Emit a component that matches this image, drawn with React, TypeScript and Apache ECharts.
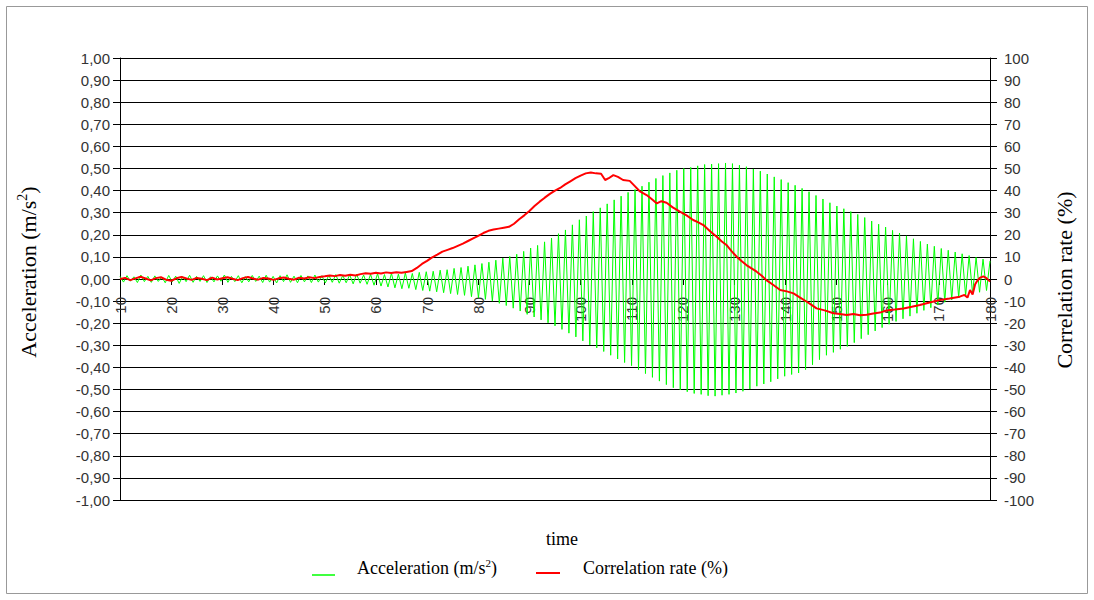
import { useEffect, useRef } from "react";
import * as echarts from "echarts";

// Acceleration (m/s²): alternating upper peaks and lower troughs of the oscillation,
// sampled every ACC_STEP time units starting at ACC_START (peak, trough, peak, ...).
const ACC_START = 10;
const ACC_STEP = 0.68;

const accPeaks = [
  0.012, 0.015, 0.010, 0.018, 0.012, 0.014, 0.009, 0.016, 0.013, 0.011,
  0.017, 0.012, 0.015, 0.010, 0.014, 0.018, 0.012, 0.015, 0.011, 0.016,
  0.013, 0.017, 0.012, 0.015, 0.019, 0.013, 0.016, 0.014, 0.018, 0.015,
  0.017, 0.020, 0.016, 0.019, 0.022, 0.018, 0.021, 0.024, 0.020, 0.026,
  0.022, 0.028, 0.025, 0.030, 0.033, 0.035, 0.040, 0.042, 0.048, 0.052,
  0.058, 0.064, 0.070, 0.076, 0.085, 0.094, 0.102, 0.112, 0.125, 0.140,
  0.152, 0.168, 0.185, 0.205, 0.222, 0.245, 0.268, 0.285, 0.305, 0.322,
  0.340, 0.358, 0.375, 0.392, 0.405, 0.420, 0.438, 0.455, 0.468, 0.480,
  0.492, 0.500, 0.505, 0.512, 0.518, 0.520, 0.522, 0.525, 0.522, 0.515,
  0.508, 0.498, 0.488, 0.475, 0.462, 0.450, 0.436, 0.424, 0.410, 0.395,
  0.378, 0.362, 0.345, 0.330, 0.318, 0.305, 0.292, 0.278, 0.262, 0.248,
  0.235, 0.220, 0.208, 0.195, 0.182, 0.170, 0.158, 0.148, 0.138, 0.130,
  0.122, 0.114, 0.106, 0.098, 0.090, 0.082,
];

const accTroughs = [
  -0.014, -0.010, -0.016, -0.012, -0.015, -0.011, -0.017, -0.013, -0.020, -0.012,
  -0.015, -0.011, -0.016, -0.013, -0.010, -0.015, -0.012, -0.017, -0.013, -0.011,
  -0.016, -0.014, -0.018, -0.012, -0.015, -0.017, -0.013, -0.016, -0.014, -0.018,
  -0.015, -0.019, -0.017, -0.022, -0.019, -0.024, -0.028, -0.032, -0.036, -0.040,
  -0.044, -0.042, -0.048, -0.052, -0.055, -0.058, -0.062, -0.066, -0.070, -0.074,
  -0.080, -0.086, -0.092, -0.100, -0.110, -0.120, -0.132, -0.145, -0.160, -0.172,
  -0.185, -0.198, -0.212, -0.228, -0.245, -0.262, -0.280, -0.298, -0.312, -0.328,
  -0.345, -0.362, -0.378, -0.392, -0.410, -0.428, -0.445, -0.462, -0.478, -0.492,
  -0.502, -0.510, -0.518, -0.522, -0.528, -0.530, -0.526, -0.522, -0.516, -0.508,
  -0.498, -0.485, -0.475, -0.465, -0.452, -0.440, -0.432, -0.425, -0.410, -0.388,
  -0.365, -0.345, -0.332, -0.318, -0.305, -0.288, -0.270, -0.252, -0.235, -0.220,
  -0.205, -0.192, -0.180, -0.168, -0.155, -0.142, -0.130, -0.118, -0.105, -0.095,
  -0.085, -0.076, -0.068, -0.060, -0.052,
];

// Correlation rate (%) against time.
const corrTime = [
  10, 11, 12, 13, 14, 15, 16, 17, 18, 19,
  20, 21, 22, 23, 24, 25, 26, 27, 28, 29,
  30, 31, 32, 33, 34, 35, 36, 37, 38, 39,
  40, 41, 42, 43, 44, 45, 46, 47, 48, 49,
  50, 51, 52, 53, 54, 55, 56, 57, 58, 59,
  60, 61, 62, 63, 64, 65, 66, 67, 68, 69,
  70, 71, 72, 73, 74, 75, 76, 77, 78, 79,
  80, 81, 82, 83, 84, 85, 86, 87, 88, 89,
  90, 91, 92, 93, 94, 95, 96, 97, 98, 99,
  100, 101, 102, 103, 104, 104.8, 105.5, 106.4, 107.3, 108.3,
  109.6, 110.6, 111.6, 112.9, 114, 114.9, 115.8, 116.8, 118, 119.4,
  120.7, 122, 123, 124, 125.3, 126.6, 127.6, 128.5, 129.5, 130.5,
  131.5, 132.4, 133.4, 134.4, 135.4, 136.3, 137.6, 139, 140.3, 141.6,
  142.9, 144.2, 145.2, 146.1, 147.7, 149.4, 150.7, 152, 153.3, 154.6,
  155.9, 157.2, 158.5, 159.8, 161.4, 163.1, 164.7, 166.3, 168.2, 170.2,
  172.1, 174.1, 175, 175.6, 176.1, 176.6, 177.1, 177.4, 178, 178.7,
  179.3, 180,
];

const corrValue = [
  0, 0.5, -0.5, 0.3, 1.0, 0.2, -0.6, 0.4, 0.8, -0.3,
  -0.8, 0.3, 0.9, 0.2, -0.4, 0.5, 0.1, -0.5, 0.6, -0.2,
  0.3, 0.8, 0.1, -0.5, 0.4, 0.9, 0.2, -0.3, 0.5, 0.2,
  -0.4, 0.3, 0.7, 0.1, -0.3, 0.6, 0.2, 0.8, 0.4, 0.9,
  1.2, 1.6, 1.3, 1.8, 1.5, 1.9, 1.6, 2.2, 2.6, 2.4,
  2.8, 2.5, 3.0, 2.7, 3.1, 2.8, 3.2, 3.6, 5.0, 6.8,
  8.2, 9.8, 11.0, 12.4, 13.2, 14.0, 15.0, 16.0, 17.2, 18.4,
  19.5, 20.8, 21.8, 22.4, 22.8, 23.2, 23.6, 25.0, 27.0, 28.8,
  30.8, 33.0, 35.0, 36.8, 38.5, 40.0, 41.2, 42.8, 44.2, 45.6,
  46.8, 47.8, 48.2, 47.8, 47.6, 44.8, 45.6, 47.0, 46.2, 44.8,
  44.4, 42.0, 39.6, 38.0, 36.0, 34.2, 35.2, 34.5, 32.4, 30.5,
  28.8, 26.7, 25.6, 24.4, 21.6, 19.1, 17.0, 15.4, 12.6, 10.1,
  8.0, 6.3, 4.8, 3.3, 1.5, -0.5, -2.6, -5.0, -5.6, -6.5,
  -8.4, -10.3, -11.8, -13.3, -14.2, -15.5, -15.8, -16.3, -15.8, -16.4,
  -16.2, -15.6, -15.2, -14.2, -13.8, -13.3, -12.6, -11.8, -10.6, -9.5,
  -8.8, -8.0, -7.2, -8.4, -5.0, -7.0, -2.4, -1.2, 0.5, 1.2,
  0.4, -1.2,
];

const X_MIN = 10;
const X_MAX = 180;
const X_STEP = 10;
const ACC_MIN = -1;
const ACC_MAX = 1;
const ACC_STEP_TICK = 0.1;
const CORR_MIN = -100;
const CORR_MAX = 100;
const CORR_STEP_TICK = 10;

const SERIES_ACC = "Acceleration (m/s²)";
const SERIES_CORR = "Correlation rate (%)";

const SANS = "'Liberation Sans', Arial, sans-serif";
const SERIF = "'Liberation Serif', 'Times New Roman', serif";

// Plot box
const GRID_LEFT = 120;
const GRID_RIGHT = 104;
const GRID_TOP = 58;
const GRID_HEIGHT = 442;

export default function App() {
  const ref = useRef<HTMLDivElement>(null);

  useEffect(() => {
    if (!ref.current) return;
    const chart = echarts.init(ref.current, null, { renderer: "svg" });

    const accData: [number, number][] = [];
    const total = accPeaks.length + accTroughs.length;
    for (let i = 0; i < total; i++) {
      const v = i % 2 === 0 ? accPeaks[i / 2] : accTroughs[(i - 1) / 2];
      const t = Math.round((ACC_START + i * ACC_STEP) * 100) / 100;
      accData.push([t, v]);
    }
    const corrData = corrTime.map((t, i) => [t, corrValue[i]]);

    // The time axis runs along the zero line of the acceleration scale:
    // shift it up from the bottom edge by the height of the negative half.
    const zeroOffset = -GRID_HEIGHT * (0 - ACC_MIN) / (ACC_MAX - ACC_MIN);

    const tickLabel = { color: "#333", fontFamily: SANS, fontSize: 15 };

    const titleRich = (size: number) => ({
      n: { fontFamily: SERIF, fontSize: size, color: "#000", lineHeight: size + 4 },
      sup: {
        fontFamily: SERIF,
        fontSize: Math.round(size * 0.62),
        color: "#000",
        lineHeight: size + 4,
        verticalAlign: "top",
        padding: [0, 0, Math.round(size * 0.45), 0],
      },
    });

    chart.setOption({
      animation: false,
      backgroundColor: "#fff",
      grid: { left: GRID_LEFT, right: GRID_RIGHT, top: GRID_TOP, height: GRID_HEIGHT, containLabel: false },
      xAxis: {
        type: "value",
        position: "bottom",
        offset: zeroOffset,
        min: X_MIN,
        max: X_MAX,
        interval: X_STEP,
        axisLine: { onZero: false, lineStyle: { color: "#000", width: 1 } },
        axisTick: { show: true, length: 6, lineStyle: { color: "#000" } },
        axisLabel: { ...tickLabel, rotate: 90, margin: 18, showMinLabel: true, showMaxLabel: true },
        splitLine: { show: false },
      },
      yAxis: [
        {
          type: "value",
          position: "left",
          min: ACC_MIN,
          max: ACC_MAX,
          interval: ACC_STEP_TICK,
          axisLine: { show: true, onZero: false, lineStyle: { color: "#000", width: 1 } },
          axisTick: { show: true, length: 7, lineStyle: { color: "#000" } },
          axisLabel: {
            ...tickLabel,
            margin: 10,
            formatter: (v: number) => {
              const r = Math.abs(v) < 1e-9 ? 0 : v;
              return r.toFixed(2).replace(".", ",");
            },
          },
          splitLine: { show: true, lineStyle: { color: "#000", width: 1 } },
        },
        {
          type: "value",
          position: "right",
          min: CORR_MIN,
          max: CORR_MAX,
          interval: CORR_STEP_TICK,
          axisLine: { show: true, onZero: false, lineStyle: { color: "#000", width: 1 } },
          axisTick: { show: true, length: 7, lineStyle: { color: "#000" } },
          axisLabel: {
            ...tickLabel,
            margin: 14,
            formatter: (v: number) => String(Math.round(v)),
          },
          splitLine: { show: false },
        },
      ],
      series: [
        {
          name: SERIES_ACC,
          type: "line",
          yAxisIndex: 0,
          data: accData,
          showSymbol: false,
          symbol: "none",
          lineStyle: { color: "#00ff00", width: 1 },
          itemStyle: { color: "#00ff00" },
          z: 2,
        },
        {
          name: SERIES_CORR,
          type: "line",
          yAxisIndex: 1,
          data: corrData,
          showSymbol: false,
          symbol: "none",
          lineStyle: { color: "#ff0000", width: 2 },
          itemStyle: { color: "#ff0000" },
          z: 3,
        },
      ],
      graphic: [
        {
          type: "rect",
          shape: { x: 6.5, y: 6.5, width: 1081, height: 587 },
          style: { fill: "none", stroke: "#999", lineWidth: 1 },
          silent: true,
        },
        {
          type: "text",
          x: 28,
          y: 272,
          rotation: Math.PI / 2,
          style: {
            text: "{n|Acceleration (m/s}{sup|2}{n|)}",
            rich: titleRich(22),
            align: "center",
            verticalAlign: "middle",
          },
        },
        {
          type: "text",
          x: 1064,
          y: 280,
          rotation: Math.PI / 2,
          style: {
            text: SERIES_CORR,
            fontFamily: SERIF,
            fontSize: 22,
            fill: "#000",
            align: "center",
            verticalAlign: "middle",
          },
        },
        {
          type: "text",
          x: 562,
          y: 539,
          style: {
            text: "time",
            fontFamily: SERIF,
            fontSize: 18,
            fill: "#000",
            align: "center",
            verticalAlign: "middle",
          },
        },
        {
          type: "line",
          shape: { x1: 312, y1: 575, x2: 335, y2: 575 },
          style: { stroke: "#00ff00", lineWidth: 1.5 },
        },
        {
          type: "text",
          x: 357,
          y: 568,
          style: {
            text: "{n|Acceleration (m/s}{sup|2}{n|)}",
            rich: titleRich(18),
            align: "left",
            verticalAlign: "middle",
          },
        },
        {
          type: "line",
          shape: { x1: 536, y1: 573, x2: 560, y2: 573 },
          style: { stroke: "#ff0000", lineWidth: 2 },
        },
        {
          type: "text",
          x: 583,
          y: 568,
          style: {
            text: SERIES_CORR,
            fontFamily: SERIF,
            fontSize: 18,
            fill: "#000",
            align: "left",
            verticalAlign: "middle",
          },
        },
      ],
    });

    return () => chart.dispose();
  }, []);

  return (
    <div
      ref={ref}
      style={{ position: "fixed", left: 0, top: 0, width: 1094, height: 600, background: "#fff" }}
    />
  );
}
